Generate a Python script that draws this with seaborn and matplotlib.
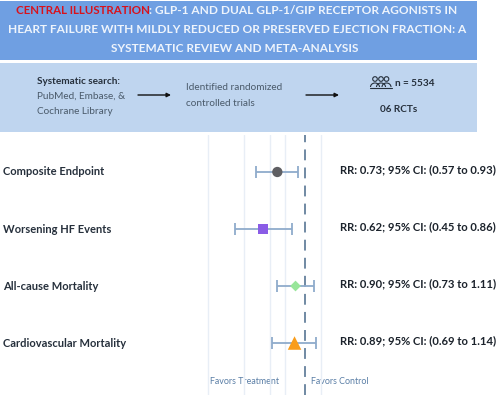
import numpy as np
import pandas as pd
import matplotlib
matplotlib.use("Agg")
import matplotlib.pyplot as plt
from matplotlib.patches import Rectangle, Circle, Arc
import seaborn as sns

endpoints = ["Composite Endpoint", "Worsening HF Events", "All-cause Mortality", "Cardiovascular Mortality"]
rr = [0.73, 0.62, 0.90, 0.89]
ci_low = [0.57, 0.45, 0.73, 0.69]
ci_high = [0.93, 0.86, 1.11, 1.14]
marker_shapes = ["o", "s", "D", "^"]
marker_sizes = [55, 58, 30, 95]
marker_colors = ["#5f5f63", "#8a5ce6", "#98e69a", "#f99d1c"]
grid_values = [0.33, 0.5, 0.67, 0.8, 1.2]
rr_labels = ["RR: 0.73; 95% CI: (0.57 to 0.93)", "RR: 0.62; 95% CI: (0.45 to 0.86)",
             "RR: 0.90; 95% CI: (0.73 to 1.11)", "RR: 0.89; 95% CI: (0.69 to 1.14)"]
title_red = "CENTRAL ILLUSTRATION"
title_lines = [": GLP-1 AND DUAL GLP-1/GIP RECEPTOR AGONISTS IN",
               "HEART FAILURE WITH MILDLY REDUCED OR PRESERVED EJECTION FRACTION: A",
               "SYSTEMATIC REVIEW AND META-ANALYSIS"]

W, H = 500, 395
sns.set_theme(style="white")
plt.rcParams["font.family"] = ["Lato", "DejaVu Sans"]
fig = plt.figure(figsize=(W / 100, H / 100), dpi=100, facecolor="white")

# overlay in pixel coordinates for the header panels
bg = fig.add_axes([0, 0, 1, 1])
bg.set_xlim(0, W); bg.set_ylim(H, 0); bg.axis("off")
bg.add_patch(Rectangle((0, 1), 477, 59, color="#6f9fe2", lw=0))
bg.add_patch(Rectangle((0, 63), 477, 69, color="#bfd5ef", lw=0))

fig_t = dict(fontsize=8.55, fontweight="bold", va="center")
red = bg.text(15.5, 11, title_red, color="#d8121c", fontsize=8.3, fontweight="bold", va="center")
fig.canvas.draw()
x_end = bg.transData.inverted().transform(red.get_window_extent().get_points())[1, 0]
bg.text(x_end, 11, title_lines[0], color="#eef4fc", **fig_t)
bg.text(237, 29.5, title_lines[1], color="#eef4fc", ha="center", **fig_t)
bg.text(235, 48, title_lines[2], color="#eef4fc", ha="center", **fig_t)

dark = "#26303c"; mid = "#4a5a6a"
body = 7.2
bg.text(37, 81.5, "Systematic search:", fontsize=body, fontweight="bold", color=dark, va="center")
bg.text(37, 96.5, "PubMed, Embase, &", fontsize=body, color=mid, va="center")
bg.text(37, 111.5, "Cochrane Library", fontsize=body, color=mid, va="center")
bg.text(186.5, 88, "Identified randomized", fontsize=body, color=mid, va="center")
bg.text(186.5, 103, "controlled trials", fontsize=body, color=mid, va="center")
bg.text(395, 83.5, "n = 5534", fontsize=body, fontweight="bold", color=dark, va="center")
bg.text(399, 110, "06 RCTs", fontsize=body, fontweight="bold", color=dark, ha="center", va="center")
for x0, x1 in [(138, 171), (306, 339)]:
    bg.annotate("", xy=(x1, 95), xytext=(x0, 95),
                arrowprops=dict(arrowstyle="-|>", color="#111111", lw=1.0, mutation_scale=6, shrinkA=0, shrinkB=0))
for cx in (375, 381, 386.5):
    bg.add_patch(Circle((cx, 79), 2.3, fill=False, ec=dark, lw=0.8))
    bg.add_patch(Arc((cx, 87), 9, 8, theta1=180, theta2=360, ec=dark, lw=0.8))
bg.plot([369.5, 391.5], [87.5, 87.5], color=dark, lw=0.8)

# forest plot, log-scaled RR axis across the full width
ax = fig.add_axes([0, 0, 1, 260 / H])
ax.patch.set_alpha(0)
df = pd.DataFrame({"endpoint": endpoints, "rr": rr, "low": ci_low, "high": ci_high})
for g in grid_values:
    ax.axvline(g, color="#e8eef6", lw=1, zorder=0)
ax.axvline(1.0, color="#64809c", lw=1.3, ls=(0, (6, 4)), zorder=1)
ax.hlines(df["endpoint"], df["low"], df["high"], color="#8fabcb", lw=1.3, zorder=2)
for i, (lo, hi) in enumerate(zip(ci_low, ci_high)):
    ax.vlines([lo, hi], i - 0.1, i + 0.1, color="#8fabcb", lw=1.3, zorder=2)
sns.scatterplot(data=df, x="rr", y="endpoint", hue="endpoint", style="endpoint", size="endpoint",
                palette=dict(zip(endpoints, marker_colors)),
                markers=dict(zip(endpoints, marker_shapes)),
                sizes=dict(zip(endpoints, marker_sizes)),
                legend=False, linewidth=0, ax=ax, zorder=3)
ax.set_xscale("log")
ax.set_xlim(0.03, 9.47)
ax.set_ylim(3.912, -0.649)
ax.set_xlabel(""); ax.set_ylabel("")
ax.set_xticks([]); ax.set_yticks([])
ax.minorticks_off()
for s in ax.spines.values():
    s.set_visible(False)

trans = ax.get_yaxis_transform()
for i, (name, lab) in enumerate(zip(endpoints, rr_labels)):
    ax.text(3 / W, i, name, transform=trans, fontsize=8.0, fontweight="bold", color=dark, va="center")
    ax.text(340 / W, i - 0.04, lab, transform=trans, fontsize=8.1, fontweight="bold", color="#1c232c", va="center")
bg.text(210.5, 381.5, "Favors Treatment", fontsize=6.4, color="#5a7ea6", va="center")
bg.text(311, 381.5, "Favors Control", fontsize=6.4, color="#5a7ea6", va="center")

fig.savefig("out.png", dpi=100)
